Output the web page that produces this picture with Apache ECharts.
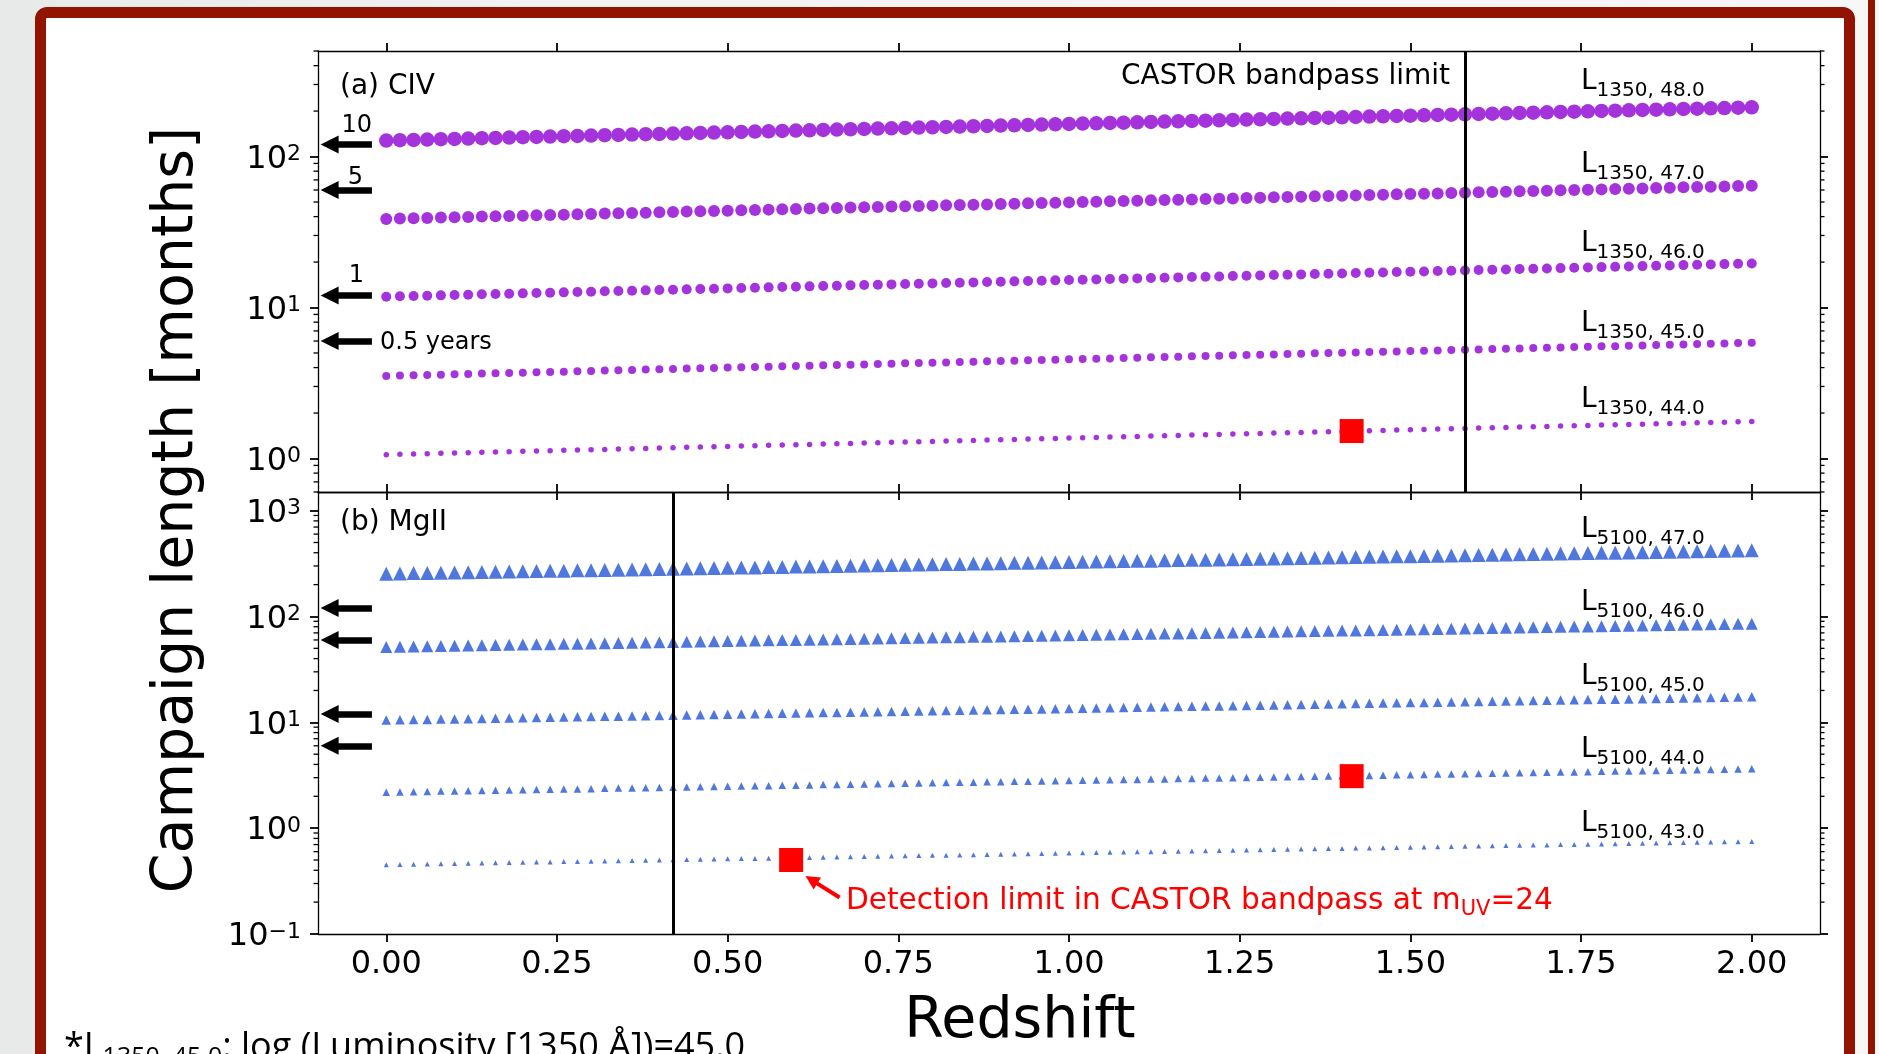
<!DOCTYPE html>
<html>
<head>
<meta charset="utf-8">
<script src="https://cdn.jsdelivr.net/npm/echarts@6.0.0/dist/echarts.min.js"></script>
<style>
  html, body { margin: 0; padding: 0; width: 1879px; height: 1054px; overflow: hidden;
    background: linear-gradient(to right, #e8e9e9, #f2f2f2 30%, #f7f7f7); }
  #frame { position: absolute; left: 35px; top: 7px; width: 1820px; height: 1120px;
    box-sizing: border-box; border: 11px solid #921300; border-radius: 12px; background: #fff; }
  #edge { position: absolute; left: 1868px; top: 0; width: 7px; height: 1054px; background: #921300; }
  #main { position: absolute; left: 0; top: 0; width: 1879px; height: 1054px; }
</style>
</head>
<body>
<div id="frame"></div>
<div id="edge"></div>
<div id="main"></div>
<script>
// redshift grid shared by every series
const redshift = [
  0.00,0.02,0.04,0.06,0.08,0.10,0.12,0.14,0.16,0.18,
  0.20,0.22,0.24,0.26,0.28,0.30,0.32,0.34,0.36,0.38,
  0.40,0.42,0.44,0.46,0.48,0.50,0.52,0.54,0.56,0.58,
  0.60,0.62,0.64,0.66,0.68,0.70,0.72,0.74,0.76,0.78,
  0.80,0.82,0.84,0.86,0.88,0.90,0.92,0.94,0.96,0.98,
  1.00,1.02,1.04,1.06,1.08,1.10,1.12,1.14,1.16,1.18,
  1.20,1.22,1.24,1.26,1.28,1.30,1.32,1.34,1.36,1.38,
  1.40,1.42,1.44,1.46,1.48,1.50,1.52,1.54,1.56,1.58,
  1.60,1.62,1.64,1.66,1.68,1.70,1.72,1.74,1.76,1.78,
  1.80,1.82,1.84,1.86,1.88,1.90,1.92,1.94,1.96,1.98,
  2.00
];

// (a) CIV campaign length [months]
const civ48 = [
  127.6,128.2,128.9,129.6,130.2,130.9,131.5,132.2,132.9,133.6,
  134.2,134.9,135.6,136.3,137.0,137.7,138.4,139.1,139.8,140.5,
  141.2,141.9,142.6,143.4,144.1,144.8,145.6,146.3,147.0,147.8,
  148.5,149.3,150.1,150.8,151.6,152.4,153.1,153.9,154.7,155.5,
  156.3,157.1,157.9,158.7,159.5,160.3,161.1,161.9,162.7,163.6,
  164.4,165.2,166.1,166.9,167.7,168.6,169.5,170.3,171.2,172.1,
  172.9,173.8,174.7,175.6,176.5,177.4,178.3,179.2,180.1,181.0,
  181.9,182.8,183.8,184.7,185.6,186.6,187.5,188.5,189.4,190.4,
  191.4,192.3,193.3,194.3,195.3,196.3,197.3,198.3,199.3,200.3,
  201.3,202.3,203.4,204.4,205.4,206.5,207.5,208.6,209.6,210.7,
  211.8
];
const civ47 = [
  38.6,38.8,39.0,39.2,39.4,39.6,39.8,40.0,40.2,40.4,
  40.6,40.8,41.0,41.2,41.4,41.7,41.9,42.1,42.3,42.5,
  42.7,42.9,43.2,43.4,43.6,43.8,44.0,44.3,44.5,44.7,
  44.9,45.2,45.4,45.6,45.9,46.1,46.3,46.6,46.8,47.0,
  47.3,47.5,47.8,48.0,48.2,48.5,48.7,49.0,49.2,49.5,
  49.7,50.0,50.2,50.5,50.7,51.0,51.3,51.5,51.8,52.0,
  52.3,52.6,52.8,53.1,53.4,53.7,53.9,54.2,54.5,54.8,
  55.0,55.3,55.6,55.9,56.2,56.4,56.7,57.0,57.3,57.6,
  57.9,58.2,58.5,58.8,59.1,59.4,59.7,60.0,60.3,60.6,
  60.9,61.2,61.5,61.8,62.1,62.5,62.8,63.1,63.4,63.7,
  64.1
];
const civ46 = [
  11.80,11.86,11.92,11.98,12.04,12.10,12.16,12.23,12.29,12.35,
  12.41,12.48,12.54,12.60,12.67,12.73,12.80,12.86,12.93,12.99,
  13.06,13.12,13.19,13.26,13.33,13.39,13.46,13.53,13.60,13.67,
  13.74,13.81,13.88,13.95,14.02,14.09,14.16,14.23,14.31,14.38,
  14.45,14.52,14.60,14.67,14.75,14.82,14.90,14.97,15.05,15.13,
  15.20,15.28,15.36,15.43,15.51,15.59,15.67,15.75,15.83,15.91,
  15.99,16.07,16.15,16.24,16.32,16.40,16.48,16.57,16.65,16.74,
  16.82,16.91,16.99,17.08,17.17,17.25,17.34,17.43,17.52,17.61,
  17.70,17.79,17.88,17.97,18.06,18.15,18.24,18.33,18.43,18.52,
  18.62,18.71,18.81,18.90,19.00,19.09,19.19,19.29,19.39,19.48,
  19.58
];
const civ45 = [
  3.52,3.54,3.56,3.57,3.59,3.61,3.63,3.65,3.67,3.68,
  3.70,3.72,3.74,3.76,3.78,3.80,3.82,3.84,3.86,3.88,
  3.90,3.92,3.94,3.96,3.98,4.00,4.02,4.04,4.06,4.08,
  4.10,4.12,4.14,4.16,4.18,4.20,4.22,4.25,4.27,4.29,
  4.31,4.33,4.36,4.38,4.40,4.42,4.44,4.47,4.49,4.51,
  4.54,4.56,4.58,4.60,4.63,4.65,4.68,4.70,4.72,4.75,
  4.77,4.80,4.82,4.84,4.87,4.89,4.92,4.94,4.97,4.99,
  5.02,5.04,5.07,5.10,5.12,5.15,5.17,5.20,5.23,5.25,
  5.28,5.31,5.33,5.36,5.39,5.41,5.44,5.47,5.50,5.53,
  5.55,5.58,5.61,5.64,5.67,5.70,5.73,5.75,5.78,5.81,
  5.84
];
const civ44 = [
  1.060,1.065,1.071,1.076,1.082,1.087,1.093,1.098,1.104,1.110,
  1.115,1.121,1.126,1.132,1.138,1.144,1.149,1.155,1.161,1.167,
  1.173,1.179,1.185,1.191,1.197,1.203,1.209,1.215,1.222,1.228,
  1.234,1.240,1.247,1.253,1.259,1.266,1.272,1.279,1.285,1.292,
  1.298,1.305,1.311,1.318,1.325,1.331,1.338,1.345,1.352,1.359,
  1.366,1.372,1.379,1.386,1.393,1.401,1.408,1.415,1.422,1.429,
  1.437,1.444,1.451,1.458,1.466,1.473,1.481,1.488,1.496,1.504,
  1.511,1.519,1.527,1.534,1.542,1.550,1.558,1.566,1.574,1.582,
  1.590,1.598,1.606,1.614,1.622,1.630,1.639,1.647,1.655,1.664,
  1.672,1.681,1.689,1.698,1.706,1.715,1.724,1.733,1.741,1.750,
  1.759
];

// (b) MgII campaign length [months]
const mg47 = [
  254,255,257,258,259,261,262,263,265,266,
  267,269,270,271,273,274,275,277,278,280,
  281,283,284,285,287,288,290,291,293,294,
  296,297,299,300,302,303,305,306,308,310,
  311,313,314,316,317,319,321,322,324,326,
  327,329,331,332,334,336,337,339,341,343,
  344,346,348,350,351,353,355,357,358,360,
  362,364,366,368,370,371,373,375,377,379,
  381,383,385,387,389,391,393,395,397,399,
  401,403,405,407,409,411,413,415,417,419,
  422
];
const mg46 = [
  51.6,51.9,52.1,52.4,52.7,52.9,53.2,53.5,53.7,54.0,
  54.3,54.6,54.8,55.1,55.4,55.7,56.0,56.2,56.5,56.8,
  57.1,57.4,57.7,58.0,58.3,58.6,58.9,59.2,59.5,59.8,
  60.1,60.4,60.7,61.0,61.3,61.6,61.9,62.2,62.6,62.9,
  63.2,63.5,63.8,64.2,64.5,64.8,65.1,65.5,65.8,66.1,
  66.5,66.8,67.2,67.5,67.8,68.2,68.5,68.9,69.2,69.6,
  69.9,70.3,70.6,71.0,71.4,71.7,72.1,72.5,72.8,73.2,
  73.6,73.9,74.3,74.7,75.1,75.5,75.8,76.2,76.6,77.0,
  77.4,77.8,78.2,78.6,79.0,79.4,79.8,80.2,80.6,81.0,
  81.4,81.8,82.2,82.7,83.1,83.5,83.9,84.4,84.8,85.2,
  85.6
];
const mg45 = [
  10.50,10.55,10.61,10.66,10.72,10.77,10.82,10.88,10.93,10.99,
  11.05,11.10,11.16,11.22,11.27,11.33,11.39,11.44,11.50,11.56,
  11.62,11.68,11.74,11.80,11.86,11.92,11.98,12.04,12.10,12.16,
  12.22,12.29,12.35,12.41,12.47,12.54,12.60,12.67,12.73,12.79,
  12.86,12.92,12.99,13.06,13.12,13.19,13.26,13.32,13.39,13.46,
  13.53,13.60,13.66,13.73,13.80,13.87,13.94,14.02,14.09,14.16,
  14.23,14.30,14.37,14.45,14.52,14.59,14.67,14.74,14.82,14.89,
  14.97,15.05,15.12,15.20,15.28,15.35,15.43,15.51,15.59,15.67,
  15.75,15.83,15.91,15.99,16.07,16.15,16.23,16.31,16.40,16.48,
  16.56,16.65,16.73,16.82,16.90,16.99,17.08,17.16,17.25,17.34,
  17.43
];
const mg44 = [
  2.19,2.20,2.21,2.22,2.24,2.25,2.26,2.27,2.28,2.29,
  2.30,2.32,2.33,2.34,2.35,2.36,2.38,2.39,2.40,2.41,
  2.42,2.44,2.45,2.46,2.47,2.49,2.50,2.51,2.52,2.54,
  2.55,2.56,2.58,2.59,2.60,2.62,2.63,2.64,2.66,2.67,
  2.68,2.70,2.71,2.72,2.74,2.75,2.77,2.78,2.79,2.81,
  2.82,2.84,2.85,2.87,2.88,2.89,2.91,2.92,2.94,2.95,
  2.97,2.98,3.00,3.01,3.03,3.04,3.06,3.08,3.09,3.11,
  3.12,3.14,3.15,3.17,3.19,3.20,3.22,3.24,3.25,3.27,
  3.28,3.30,3.32,3.34,3.35,3.37,3.39,3.40,3.42,3.44,
  3.46,3.47,3.49,3.51,3.53,3.54,3.56,3.58,3.60,3.62,
  3.64
];
const mg43 = [
  0.452,0.454,0.457,0.459,0.461,0.464,0.466,0.468,0.471,0.473,
  0.476,0.478,0.480,0.483,0.485,0.488,0.490,0.493,0.495,0.498,
  0.500,0.503,0.505,0.508,0.510,0.513,0.516,0.518,0.521,0.524,
  0.526,0.529,0.532,0.534,0.537,0.540,0.542,0.545,0.548,0.551,
  0.554,0.556,0.559,0.562,0.565,0.568,0.571,0.574,0.576,0.579,
  0.582,0.585,0.588,0.591,0.594,0.597,0.600,0.603,0.606,0.610,
  0.613,0.616,0.619,0.622,0.625,0.628,0.631,0.635,0.638,0.641,
  0.644,0.648,0.651,0.654,0.658,0.661,0.664,0.668,0.671,0.674,
  0.678,0.681,0.685,0.688,0.692,0.695,0.699,0.702,0.706,0.710,
  0.713,0.717,0.720,0.724,0.728,0.731,0.735,0.739,0.743,0.746,
  0.750
];

// detection limits (red squares): [redshift, months]
const civLimit = [[1.414, 1.52]];
const mgLimits = [[1.414, 3.10], [0.593, 0.50]];

// campaign lengths marked with arrows on the left [months] and their labels
const arrowMonths = [120, 60, 12, 6];
const arrowLabels = ['10', '5', '1', '0.5 years'];

// vertical "CASTOR bandpass limit" redshifts
const civBandLimit = 1.58;
const mgBandLimit = 0.42;

const xTicks = [0, 0.25, 0.5, 0.75, 1, 1.25, 1.5, 1.75, 2];
const civTicks = [1, 10, 100];
const mgTicks = [0.1, 1, 10, 100, 1000];
const civLabels = ['1350, 48.0', '1350, 47.0', '1350, 46.0', '1350, 45.0', '1350, 44.0'];
const mgLabels = ['5100, 47.0', '5100, 46.0', '5100, 45.0', '5100, 44.0', '5100, 43.0'];

const PURPLE = '#a533dc';
const BLUE = '#4f77de';
const RED = '#ff0000';
const FONT = 'DejaVu Sans';

const GRIDS = [
  { left: 318, top: 51, width: 1502, height: 441 },
  { left: 318, top: 492, width: 1502, height: 442 }
];
const YRANGE = [[0.6, 500], [0.1, 1500]];

function xAxisCfg(grid, pos, showLabel) {
  return {
    type: 'value', gridIndex: grid, position: pos, min: -0.1, max: 2.1,
    axisLine: { show: true, onZero: false, lineStyle: { color: '#000', width: 1.3 } },
    axisTick: { show: true, inside: false, length: 8, customValues: xTicks,
      lineStyle: { color: '#000', width: 1.8 } },
    axisLabel: { show: showLabel, customValues: xTicks, margin: 15, color: '#000',
      fontFamily: FONT, fontSize: 32, formatter: v => v.toFixed(2) },
    splitLine: { show: false }
  };
}

function expLabel(v) {
  const e = Math.round(Math.log10(v));
  return '{b|10}{e|' + (e < 0 ? '\u2212' + (-e) : e) + '}';
}

function yAxisCfg(grid, pos, ticks, showLabel) {
  return {
    type: 'log', logBase: 10, gridIndex: grid, position: pos,
    min: YRANGE[grid][0], max: YRANGE[grid][1],
    axisLine: { show: true, onZero: false, lineStyle: { color: '#000', width: 1.3 } },
    axisTick: { show: true, inside: false, length: 8, customValues: ticks,
      lineStyle: { color: '#000', width: 1.8 } },
    axisLabel: {
      show: showLabel, customValues: ticks, margin: 17, formatter: expLabel,
      rich: {
        b: { fontFamily: FONT, fontSize: 32, color: '#000', padding: [6, 0, 0, 0] },
        e: { fontFamily: FONT, fontSize: 22, color: '#000', lineHeight: 18, verticalAlign: 'top',
          padding: [6, 0, 0, 0] }
      }
    },
    splitLine: { show: false }
  };
}

function pts(values) {
  return redshift.map((z, i) => [z, values[i]]);
}

const civSets = [civ48, civ47, civ46, civ45, civ44];
const civSizes = [14.5, 12, 10, 8, 5.5];
const mgSets = [mg47, mg46, mg45, mg44, mg43];
const mgSizes = [14, 12, 9.5, 7.5, 5];

const series = [];
civSets.forEach((vals, i) => {
  series.push({
    name: 'L' + civLabels[i], type: 'scatter', xAxisIndex: 0, yAxisIndex: 0,
    symbol: 'circle', symbolSize: civSizes[i], itemStyle: { color: PURPLE, opacity: 1 },
    data: pts(vals), silent: true, z: 2
  });
});
mgSets.forEach((vals, i) => {
  series.push({
    name: 'L' + mgLabels[i], type: 'scatter', xAxisIndex: 2, yAxisIndex: 2,
    symbol: 'triangle', symbolSize: mgSizes[i], itemStyle: { color: BLUE, opacity: 1 },
    data: pts(vals), silent: true, z: 2
  });
});

const arrowLine = (m) => [{ coord: [-0.021, m] }, { coord: [-0.083, m] }];

// black vertical limits and the year arrows
series.push({
  type: 'scatter', xAxisIndex: 0, yAxisIndex: 0, data: [], silent: true,
  markLine: {
    silent: true, animation: false, label: { show: false }, symbol: ['none', 'triangle'], symbolSize: 18,
    lineStyle: { color: '#000', width: 6.5, type: 'solid' },
    data: arrowMonths.map(arrowLine)
  }
});
series.push({
  type: 'scatter', xAxisIndex: 0, yAxisIndex: 0, data: [], silent: true,
  markLine: {
    silent: true, animation: false, label: { show: false }, symbol: 'none',
    lineStyle: { color: '#000', width: 3, type: 'solid' },
    data: [{ xAxis: civBandLimit }]
  }
});
series.push({
  type: 'scatter', xAxisIndex: 2, yAxisIndex: 2, data: [], silent: true,
  markLine: {
    silent: true, animation: false, label: { show: false }, symbol: ['none', 'triangle'], symbolSize: 18,
    lineStyle: { color: '#000', width: 6.5, type: 'solid' },
    data: arrowMonths.map(arrowLine)
  }
});
series.push({
  type: 'scatter', xAxisIndex: 2, yAxisIndex: 2, data: [], silent: true,
  markLine: {
    silent: true, animation: false, label: { show: false }, symbol: 'none',
    lineStyle: { color: '#000', width: 3, type: 'solid' },
    data: [{ xAxis: mgBandLimit }]
  }
});
// red detection-limit squares and pointer
series.push({
  type: 'scatter', xAxisIndex: 0, yAxisIndex: 0, symbol: 'rect', symbolSize: 24,
  itemStyle: { color: RED, opacity: 1 }, data: civLimit, silent: true, z: 4
});
series.push({
  type: 'scatter', xAxisIndex: 2, yAxisIndex: 2, symbol: 'rect', symbolSize: 24,
  itemStyle: { color: RED, opacity: 1 }, data: mgLimits, silent: true, z: 4,
  markLine: {
    silent: true, animation: false, label: { show: false }, symbol: ['none', 'triangle'], symbolSize: 14,
    lineStyle: { color: RED, width: 4, type: 'solid' },
    data: [[{ coord: [0.664, 0.221] }, { coord: [0.6227, 0.325] }]]
  }
});

// texts
const txt = (x, y, text, size, opts) => ({
  type: 'text', x: x, y: y, silent: true, z: 10,
  style: Object.assign({ text: text, fontFamily: FONT, fontSize: size, fill: '#000',
    align: 'left', verticalAlign: 'middle' }, opts || {})
});
const lumLabel = (y, sub) => ({
  type: 'text', x: 1581, y: y, silent: true, z: 10,
  style: {
    text: '{a|L}{s|' + sub + '}', align: 'left', verticalAlign: 'top',
    rich: {
      a: { fontFamily: FONT, fontSize: 28, fill: '#000' },
      s: { fontFamily: FONT, fontSize: 20, fill: '#000', padding: [18, 0, 0, 0] }
    }
  }
});

const civLabelBase = [90, 173, 252, 332, 408];
const mgLabelBase = [538, 611, 685, 758, 832];

const graphics = [
  txt(340, 86.7, '(a) CIV', 28),
  txt(340, 522.7, '(b) MgII', 28),
  txt(1450, 76.7, 'CASTOR bandpass limit', 28, { align: 'right' }),
  txt(372, 125.9, arrowLabels[0], 24, { align: 'right' }),
  txt(363, 177.9, arrowLabels[1], 24, { align: 'right' }),
  txt(364, 276.2, arrowLabels[2], 24, { align: 'right' }),
  txt(380, 342.9, arrowLabels[3], 24),
  Object.assign(txt(177, 510, 'Campaign length [months]', 57, { align: 'center' }), { rotation: Math.PI / 2 }),
  txt(1020, 1021.7, 'Redshift', 57, { align: 'center' }),
  {
    type: 'text', x: 846, y: 883, silent: true, z: 10,
    style: {
      text: '{t|Detection limit in CASTOR bandpass at m}{s|UV}{t|=24}', align: 'left', verticalAlign: 'top',
      rich: {
        t: { fontFamily: FONT, fontSize: 29.6, fill: RED },
        s: { fontFamily: FONT, fontSize: 21, fill: RED, padding: [16, 0, 0, 0] }
      }
    }
  },
  {
    type: 'text', x: 64, y: 1025, silent: true, z: 10,
    style: {
      text: '{t|*L}{s|1350, 45.0}{t|: log (Luminosity [1350 \u00C5])=45.0}', align: 'left', verticalAlign: 'top',
      rich: {
        t: { fontFamily: 'Open Sans', fontSize: 36, fill: '#000' },
        s: { fontFamily: 'Open Sans', fontSize: 25, fill: '#000', padding: [20, 0, 0, 0] }
      }
    }
  }
];
civLabels.forEach((s, i) => graphics.push(lumLabel(civLabelBase[i] - 27.4, s)));
mgLabels.forEach((s, i) => graphics.push(lumLabel(mgLabelBase[i] - 27.4, s)));

const chart = echarts.init(document.getElementById('main'), null, { renderer: 'canvas' });
chart.setOption({
  animation: false,
  backgroundColor: 'transparent',
  grid: GRIDS.map(g => Object.assign({ containLabel: false, outerBoundsMode: 'none' }, g)),
  xAxis: [
    xAxisCfg(0, 'bottom', false),
    xAxisCfg(0, 'top', false),
    xAxisCfg(1, 'bottom', true),
    xAxisCfg(1, 'top', false)
  ],
  yAxis: [
    yAxisCfg(0, 'left', civTicks, true),
    yAxisCfg(0, 'right', civTicks, false),
    yAxisCfg(1, 'left', mgTicks, true),
    yAxisCfg(1, 'right', mgTicks, false)
  ],
  series: series,
  graphic: graphics
});

// matplotlib-style minor ticks on the log axes (2..9 per decade)
const minor = [];
[[0, 1], [2, 3]].forEach((idx, g) => {
  const lo = YRANGE[g][0], hi = YRANGE[g][1];
  const xl = GRIDS[g].left, xr = GRIDS[g].left + GRIDS[g].width;
  for (let d = -2; d <= 3; d++) {
    for (let m = 2; m <= 9; m++) {
      const v = m * Math.pow(10, d);
      if (v < lo * 0.999 || v > hi * 1.001) continue;
      const y = chart.convertToPixel({ yAxisIndex: idx[0] }, v);
      minor.push({ type: 'line', silent: true, z: 10,
        shape: { x1: xl - 4.5, y1: y, x2: xl, y2: y }, style: { stroke: '#000', lineWidth: 1.3 } });
      minor.push({ type: 'line', silent: true, z: 10,
        shape: { x1: xr, y1: y, x2: xr + 4.5, y2: y }, style: { stroke: '#000', lineWidth: 1.3 } });
    }
  }
});
chart.setOption({ graphic: graphics.concat(minor) });
</script>
</body>
</html>
